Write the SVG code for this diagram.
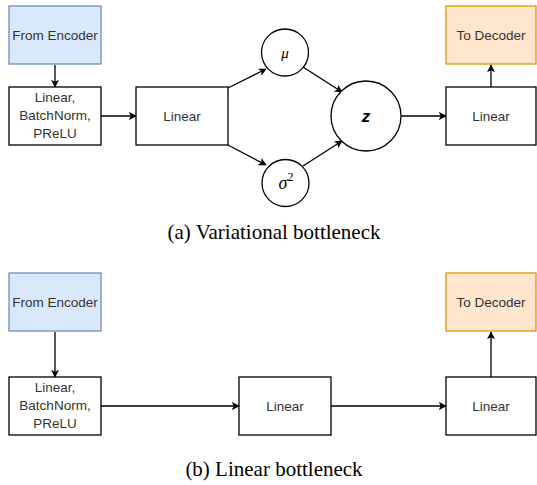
<svg xmlns="http://www.w3.org/2000/svg" width="537" height="485" viewBox="0 0 537 485">
<style>
.box{fill:#fff;stroke:#000;stroke-width:1.3}
.enc{fill:#dae8fc;stroke:#6c8ebf;stroke-width:1.3}
.dec{fill:#ffe6cc;stroke:#d79b00;stroke-width:1.3}
.t{font-family:"Liberation Sans",Arial,sans-serif;font-size:13.5px;fill:#333;text-anchor:middle}
.m{font-family:"Liberation Serif","Times New Roman",serif;font-style:italic;fill:#000;text-anchor:middle}
.cap{font-family:"Liberation Serif","Times New Roman",serif;font-size:21px;fill:#000;text-anchor:middle}
.c{fill:none;stroke:#000;stroke-width:1.3;marker-end:url(#ah)}
</style>
<defs>
<marker id="ah" viewBox="0 0 10 10" refX="9" refY="5" markerWidth="8" markerHeight="8" markerUnits="userSpaceOnUse" orient="auto">
<path d="M0,0 L10,5 L0,10 L2.5,5 Z" fill="#000"/>
</marker>
</defs>
<rect width="537" height="485" fill="#fff"/>
<g id="connectors">
<line class="c" x1="55" y1="65" x2="55" y2="87"/>
<line class="c" x1="101" y1="116" x2="136" y2="116"/>
<line class="c" x1="228" y1="88" x2="266" y2="69"/>
<line class="c" x1="228" y1="145" x2="266" y2="165"/>
<line class="c" x1="303" y1="67" x2="342" y2="92"/>
<line class="c" x1="303" y1="166" x2="342" y2="141"/>
<line class="c" x1="401" y1="116" x2="446" y2="116"/>
<line class="c" x1="491" y1="87" x2="491" y2="65"/>
<line class="c" x1="55" y1="332" x2="55" y2="377"/>
<line class="c" x1="101" y1="406" x2="239" y2="406"/>
<line class="c" x1="331" y1="406" x2="446" y2="406"/>
<line class="c" x1="491" y1="377" x2="491" y2="332"/>
</g>
<g id="a-from-encoder"><rect class="enc" x="9" y="6" width="92" height="58"/><text class="t" x="55" y="40">From Encoder</text></g>
<g id="a-lbp"><rect class="box" x="9" y="87" width="92" height="58"/><text class="t" x="55" y="102">Linear,</text><text class="t" x="55" y="120">BatchNorm,</text><text class="t" x="55" y="138">PReLU</text></g>
<g id="a-linear1"><rect class="box" x="136" y="87" width="92" height="58"/><text class="t" x="182" y="121">Linear</text></g>
<g id="a-mu"><circle class="box" cx="285" cy="52.5" r="23.5"/><text class="m" x="285" y="58" font-size="15">μ</text></g>
<g id="a-sigma"><circle class="box" cx="285.5" cy="183" r="23.5"/><text class="m" x="286" y="189" font-size="18">σ<tspan font-style="normal" font-size="12" dy="-8">2</tspan></text></g>
<g id="a-z"><circle class="box" cx="366" cy="116" r="35"/><text x="366" y="122" font-family="'Liberation Sans',Arial,sans-serif" font-size="17" font-weight="bold" font-style="italic" text-anchor="middle" fill="#000">z</text></g>
<g id="a-linear2"><rect class="box" x="446" y="87" width="90" height="58"/><text class="t" x="491" y="121">Linear</text></g>
<g id="a-to-decoder"><rect class="dec" x="446" y="6" width="90" height="58"/><text class="t" x="491" y="40">To Decoder</text></g>
<text class="cap" x="274" y="239">(a) Variational bottleneck</text>
<g id="b-from-encoder"><rect class="enc" x="9" y="273" width="92" height="58"/><text class="t" x="55" y="307">From Encoder</text></g>
<g id="b-lbp"><rect class="box" x="9" y="377" width="92" height="58"/><text class="t" x="55" y="392">Linear,</text><text class="t" x="55" y="410">BatchNorm,</text><text class="t" x="55" y="428">PReLU</text></g>
<g id="b-linear1"><rect class="box" x="239" y="377" width="92" height="58"/><text class="t" x="285" y="411">Linear</text></g>
<g id="b-linear2"><rect class="box" x="446" y="377" width="90" height="58"/><text class="t" x="491" y="411">Linear</text></g>
<g id="b-to-decoder"><rect class="dec" x="446" y="273" width="90" height="58"/><text class="t" x="491" y="307">To Decoder</text></g>
<text class="cap" x="274" y="476">(b) Linear bottleneck</text>
</svg>
